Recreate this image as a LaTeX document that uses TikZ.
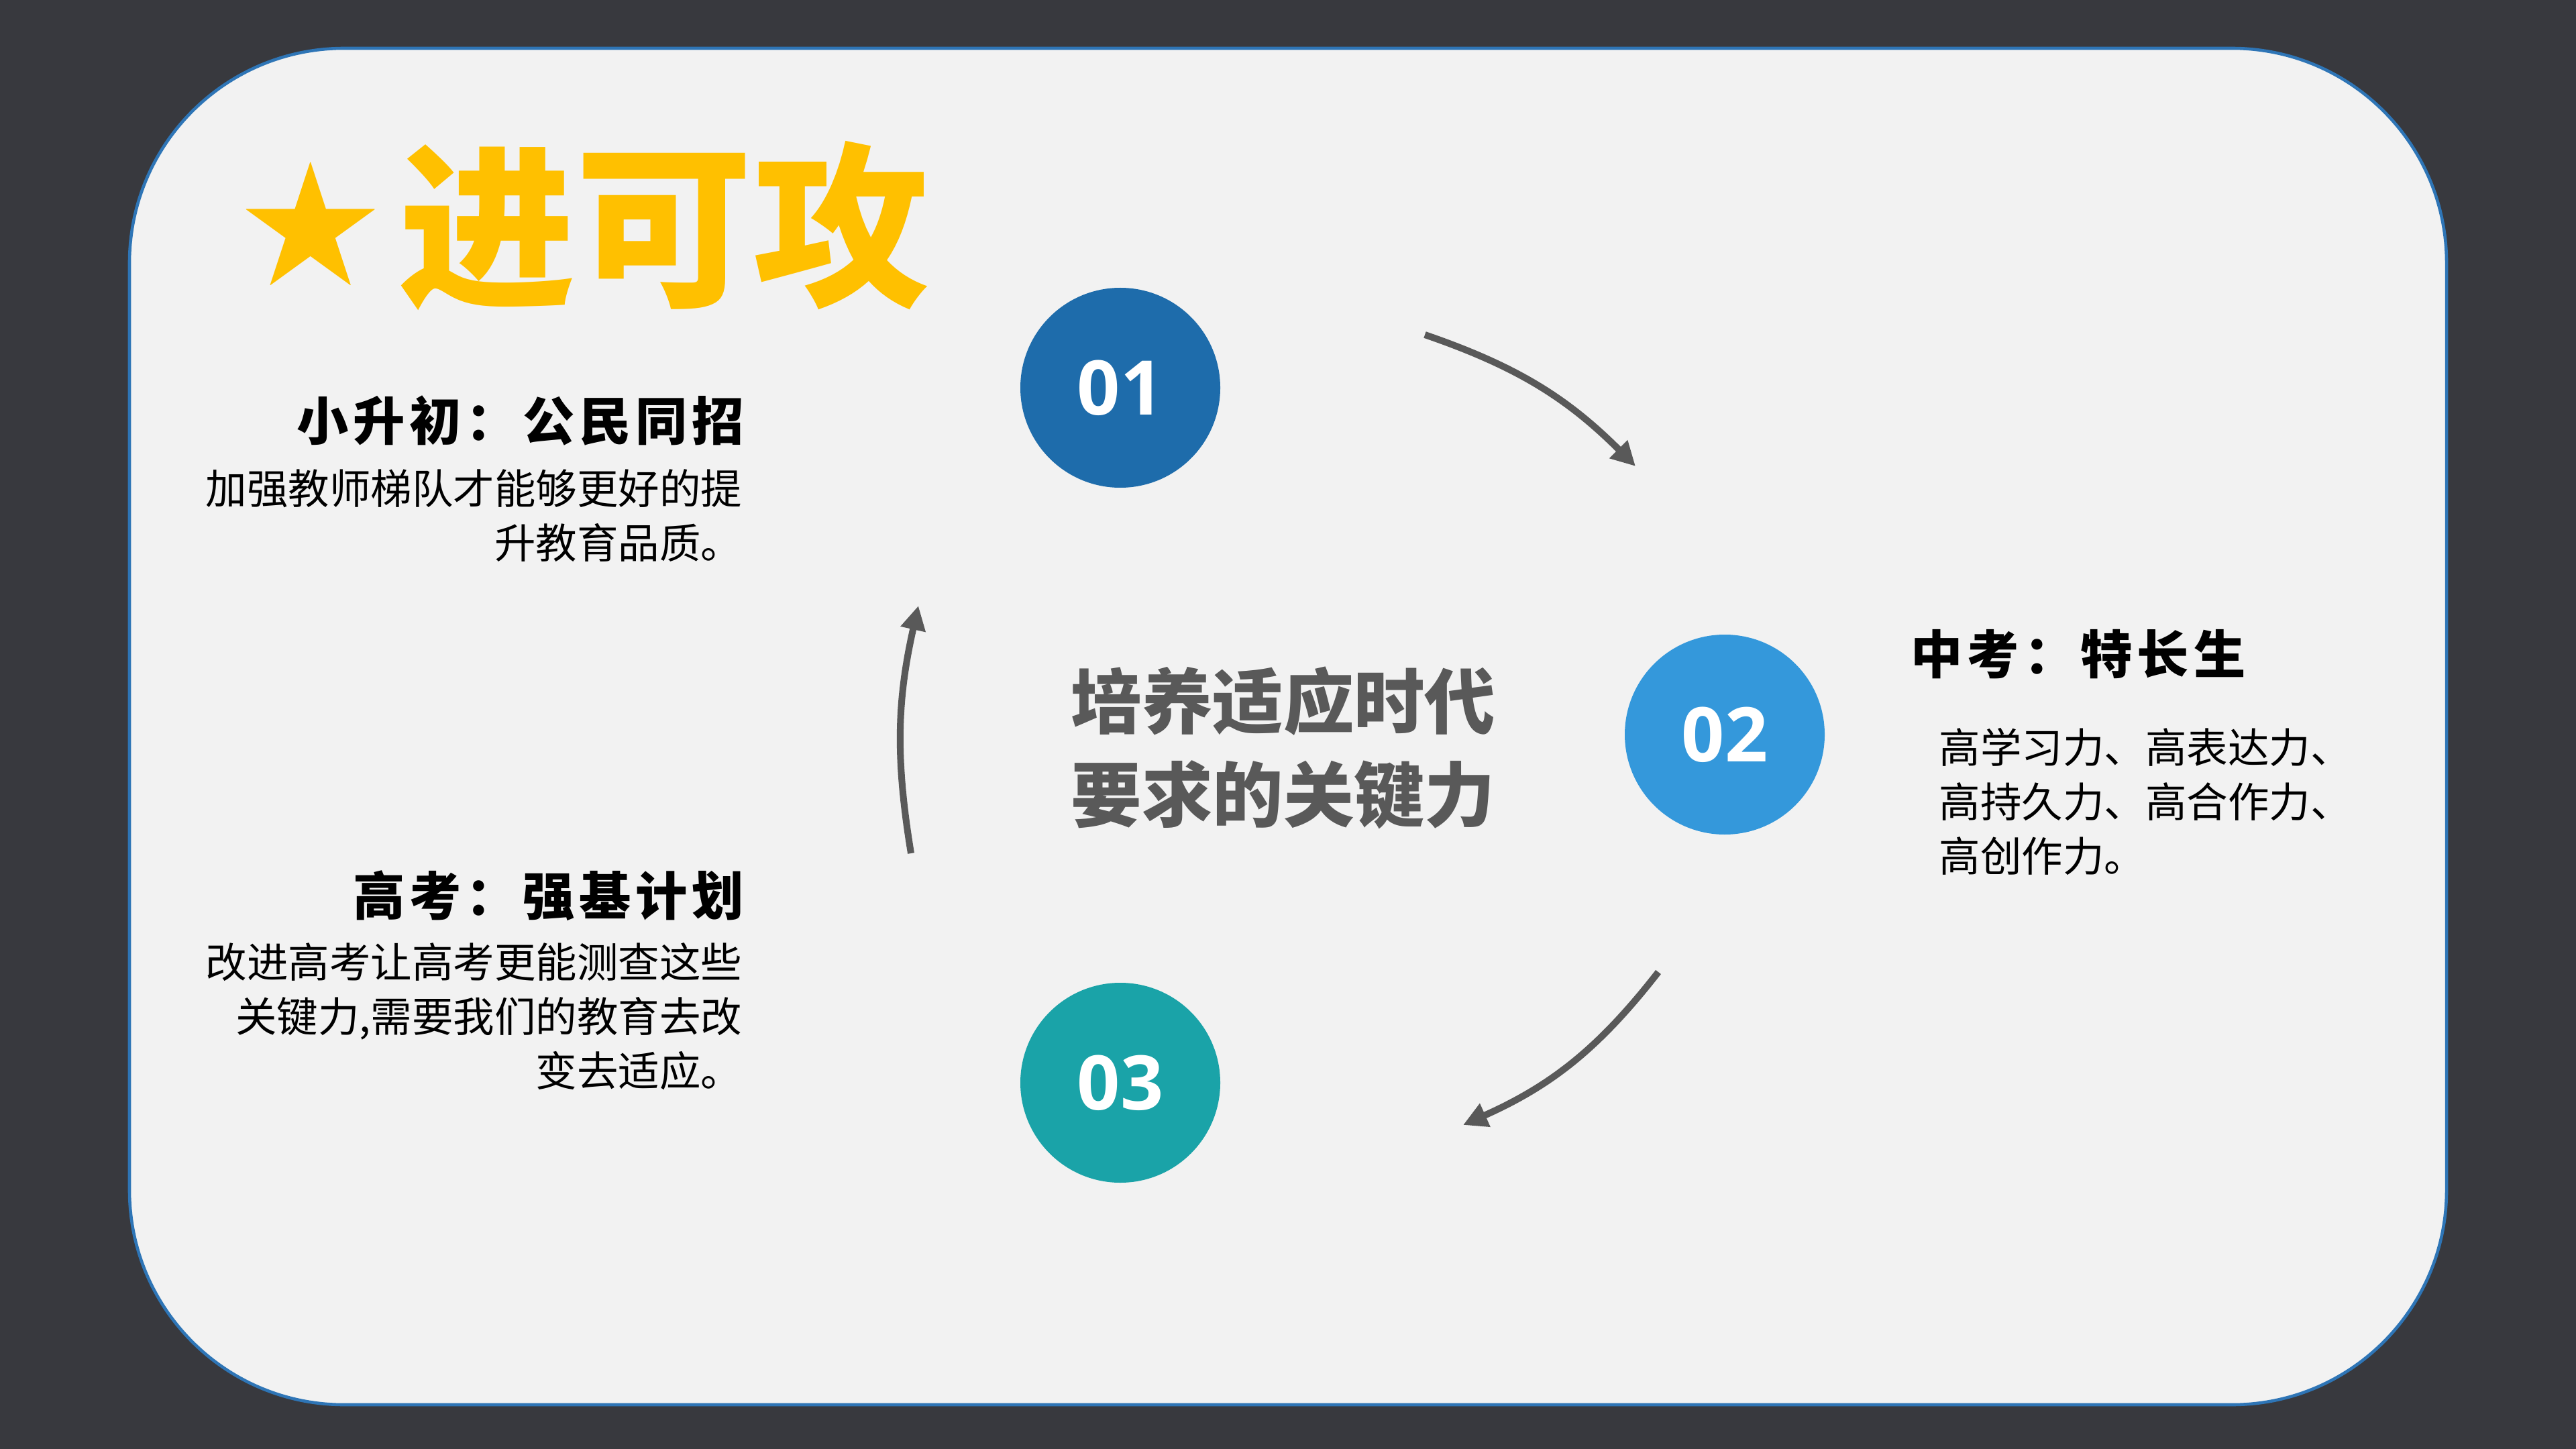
\documentclass[tikz,border=0pt]{standalone}
\usepackage{fontspec}
\setmainfont{Noto Sans CJK SC}
\newfontfamily\numfont{Open Sans}
\usetikzlibrary{arrows.meta}

\definecolor{chalk}{RGB}{56,57,62}
\definecolor{panelfill}{HTML}{F2F2F2}
\definecolor{panelline}{HTML}{2E75B6}
\definecolor{titlegold}{HTML}{FFC000}
\definecolor{discA}{HTML}{1E6CAB}
\definecolor{discB}{HTML}{3498DB}
\definecolor{discC}{HTML}{1AA3A8}
\definecolor{arrowgray}{HTML}{595959}

\begin{document}
\begin{tikzpicture}[
  headlbl/.style={font=\bfseries\fontsize{22}{26}\selectfont\addfontfeature{LetterSpace=9}, inner sep=0pt, text=black},
  bodylbl/.style={font=\fontsize{17.5}{23}\selectfont, inner sep=0pt, text=black},
  numdisc/.style={circle, minimum size=2.98cm, inner sep=0pt, text=white, font=\numfont\bfseries\fontsize{32}{32}\selectfont},
  cyclearrow/.style={draw=arrowgray, line width=1mm, -{Triangle[length=3.6mm, width=3.6mm]}}
]
\useasboundingbox (0,0) rectangle (38.4,-21.6);
\fill[chalk] (0,0) rectangle (38.4,-21.6);
\draw[panelline, fill=panelfill, line width=1.3pt, rounded corners=3.2cm] (1.93,-0.72) rectangle (36.47,-20.94);

% title
\node[inner sep=0pt, text=titlegold, font=\fontsize{59}{59}\selectfont] (star) at (4.63,-3.34) {★};
\node[inner sep=0pt, anchor=west, text=titlegold, font=\bfseries\fontsize{75}{75}\selectfont] (title) at (5.94,-3.37) {进可攻};

% numbered discs
\node[numdisc, fill=discA] (d1) at (16.70,-5.78) {01};
\node[numdisc, fill=discB] (d2) at (25.71,-10.95) {02};
\node[numdisc, fill=discC] (d3) at (16.70,-16.14) {03};

% centre
\node[inner sep=0pt, align=center, text=arrowgray, font=\bfseries\fontsize{30}{39.5}\selectfont] (core) at (19.13,-11.15) {培养适应时代\\要求的关键力};

% stages
\node[headlbl, anchor=east] (h1) at (11.10,-6.27) {小升初：公民同招};
\node[bodylbl, anchor=north east, align=right] (b1) at (11.07,-6.99) {加强教师梯队才能够更好的提\\升教育品质。};
\node[headlbl, anchor=east] (h3) at (11.10,-13.35) {高考：强基计划};
\node[bodylbl, anchor=north east, align=right] (b3) at (11.07,-14.05) {改进高考让高考更能测查这些\\关键力,需要我们的教育去改\\变去适应。};
\node[headlbl, anchor=west] (h2) at (28.48,-9.75) {中考：特长生};
\node[bodylbl, anchor=north west, align=left] (b2) at (28.90,-10.85) {高学习力、高表达力、\\高持久力、高合作力、\\高创作力。};

% cycle arrows
\coordinate (a1s) at (21.24,-4.99);
\coordinate (a1e) at (24.38,-6.95);
\coordinate (a2s) at (24.72,-14.49);
\coordinate (a2e) at (21.81,-16.77);
\coordinate (a3s) at (13.58,-12.72);
\coordinate (a3e) at (13.69,-9.03);
\draw[cyclearrow] (a1s) to[bend left=13] (a1e);
\draw[cyclearrow] (a2s) to[bend left=14] (a2e);
\draw[cyclearrow] (a3s) to[bend left=11] (a3e);

\end{tikzpicture}
\end{document}
